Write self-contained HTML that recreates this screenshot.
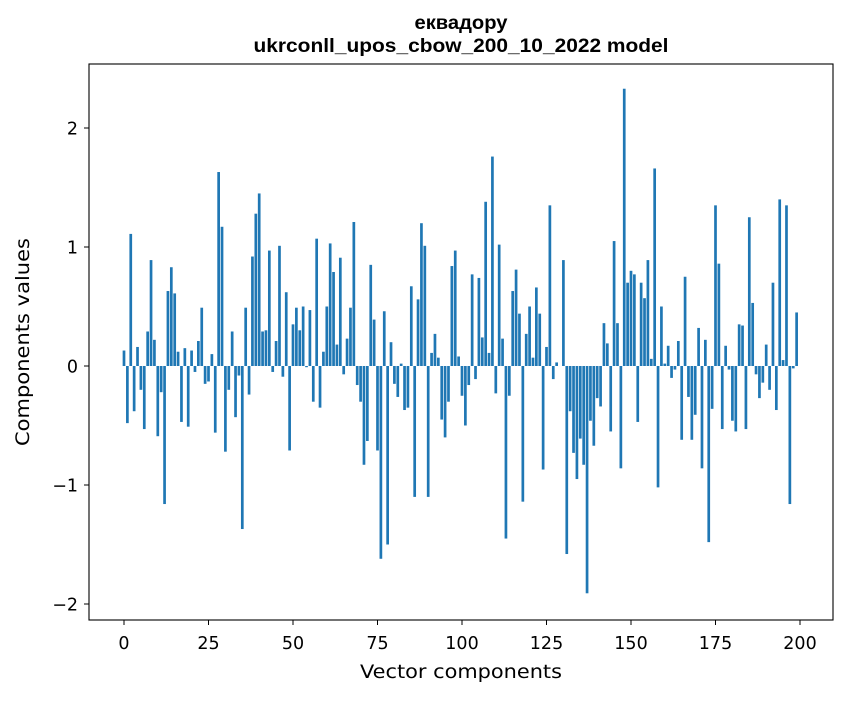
<!DOCTYPE html>
<html><head><meta charset="utf-8">
<style>
html,body{margin:0;padding:0;background:#fff;}
svg text{font-family:"DejaVu Sans","Liberation Sans",sans-serif;fill:#000;}
svg text.ttl{font-family:"Liberation Sans","DejaVu Sans",sans-serif;}
</style></head>
<body>
<svg id="chart" width="847" height="696" viewBox="0 0 847 696" xmlns="http://www.w3.org/2000/svg">
<rect width="847" height="696" fill="#fff"/>
<text class="ttl" x="461" y="29" text-anchor="middle" font-size="19" font-weight="bold" textLength="93" lengthAdjust="spacingAndGlyphs">еквадору</text>
<text class="ttl" x="461" y="52" text-anchor="middle" font-size="19" font-weight="bold" textLength="415" lengthAdjust="spacingAndGlyphs">ukrconll_upos_cbow_200_10_2022 model</text>
<g id="bars"></g>
<rect x="89" y="64" width="744" height="556" fill="none" stroke="#000" stroke-width="1.1"/>
<g id="xticks"></g>
<g id="yticks"></g>
<text x="461" y="678" text-anchor="middle" font-size="19" textLength="202" lengthAdjust="spacingAndGlyphs">Vector components</text>
<text transform="translate(29,342) rotate(-90)" text-anchor="middle" font-size="19" textLength="208" lengthAdjust="spacingAndGlyphs">Components values</text>
</svg>
<script>
const values = [0.13,-0.48,1.11,-0.38,0.16,-0.20,-0.53,0.29,0.89,0.22,
-0.59,-0.22,-1.16,0.63,0.83,0.61,0.12,-0.47,0.15,-0.51,
0.13,-0.05,0.21,0.49,-0.15,-0.13,0.10,-0.56,1.63,1.17,
-0.72,-0.20,0.29,-0.43,-0.08,-1.37,0.49,-0.24,0.92,1.28,
1.45,0.29,0.30,0.97,-0.05,0.21,1.01,-0.09,0.62,-0.71,
0.35,0.49,0.30,0.50,-0.01,0.47,-0.30,1.07,-0.35,0.12,
0.50,1.03,0.79,0.18,0.91,-0.07,0.23,0.49,1.21,-0.16,
-0.30,-0.83,-0.63,0.85,0.39,-0.71,-1.62,0.46,-1.50,0.20,
-0.15,-0.26,0.02,-0.37,-0.35,0.67,-1.10,0.56,1.20,1.01,
-1.10,0.11,0.27,0.07,-0.45,-0.60,-0.30,0.84,0.97,0.08,
-0.25,-0.50,-0.16,0.77,-0.11,0.74,0.24,1.38,0.11,1.76,
-0.23,1.02,0.23,-1.45,-0.25,0.63,0.81,0.44,-1.14,0.27,
0.50,0.07,0.66,0.44,-0.87,0.16,1.35,-0.11,0.03,0.00,
0.89,-1.58,-0.38,-0.73,-0.95,-0.61,-0.83,-1.91,-0.46,-0.67,
-0.27,-0.34,0.36,0.19,-0.55,1.05,0.36,-0.86,2.33,0.70,
0.80,0.77,-0.47,0.70,0.57,0.89,0.06,1.66,-1.02,0.50,
0.02,0.17,-0.10,-0.03,0.21,-0.62,0.75,-0.26,-0.62,-0.41,
0.32,-0.86,0.22,-1.48,-0.36,1.35,0.86,-0.53,0.17,-0.03,
-0.46,-0.55,0.35,0.34,-0.53,1.25,0.53,-0.07,-0.27,-0.14,
0.18,-0.20,0.70,-0.37,1.40,0.05,1.35,-1.16,-0.02,0.45];
const xTickValues = [0,25,50,75,100,125,150,175,200];
const yTickValues = [-2,-1,0,1,2];
const yTickLabels = ["\u22122","\u22121","0","1","2"];

const NS = "http://www.w3.org/2000/svg";
function xScale(v){ return 124 + v*3.38; }
function yScale(v){ return 366 - v*119; }
const bars = document.getElementById('bars');
values.forEach((v,i)=>{
  const r = document.createElementNS(NS,'rect');
  
  
  const y0 = yScale(0), y1 = yScale(v);
  r.setAttribute('x', xScale(i) - 1.35);
  r.setAttribute('width', 2.7);
  r.setAttribute('y', Math.min(y0,y1));
  r.setAttribute('height', Math.max(Math.abs(y1-y0),0.01));
  r.setAttribute('fill', '#1f77b4');
  bars.appendChild(r);
});
const xt = document.getElementById('xticks');
xTickValues.forEach(v=>{
  const x = xScale(v);
  const l = document.createElementNS(NS,'line');
  
  
  l.setAttribute('x1',x);l.setAttribute('x2',x);l.setAttribute('y1',620);l.setAttribute('y2',625);
  l.setAttribute('stroke','#000');
  xt.appendChild(l);
  const t = document.createElementNS(NS,'text');
  
  
  t.setAttribute('x',x);t.setAttribute('y',649);t.setAttribute('text-anchor','middle');t.setAttribute('font-size','17.5');
  t.textContent = v;
  xt.appendChild(t);
});
const yt = document.getElementById('yticks');
yTickValues.forEach((v,i)=>{
  const y = yScale(v);
  const l = document.createElementNS(NS,'line');
  
  
  l.setAttribute('x1',84);l.setAttribute('x2',89);l.setAttribute('y1',y);l.setAttribute('y2',y);
  l.setAttribute('stroke','#000');
  yt.appendChild(l);
  const t = document.createElementNS(NS,'text');
  
  
  t.setAttribute('x',78);t.setAttribute('y',y+6.5);t.setAttribute('text-anchor','end');t.setAttribute('font-size','17.5');
  t.textContent = yTickLabels[i];
  yt.appendChild(t);
});
</script>
</body></html>
